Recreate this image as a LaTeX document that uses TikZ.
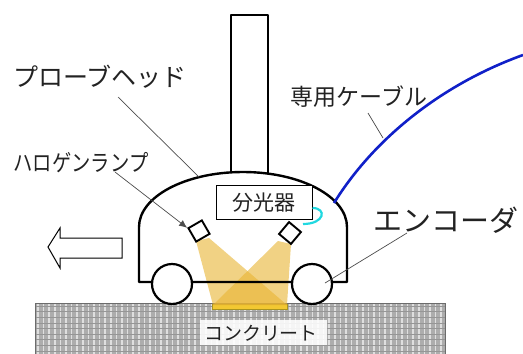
\documentclass[tikz,border=0pt]{standalone}
\usepackage{fontspec}
\newfontfamily\jp{Noto Sans CJK JP}
\usetikzlibrary{arrows.meta}
\definecolor{lamplight}{HTML}{E8B432}
\definecolor{patch}{HTML}{F2C832}
\definecolor{patchedge}{HTML}{A89420}
\definecolor{cable}{HTML}{1020C8}
\definecolor{fiber}{HTML}{20D8E0}
\definecolor{ink}{HTML}{222222}
\tikzset{
  lbl/.style={text=ink, inner sep=0pt, font=\jp},
  leader/.style={draw=black!70, line width=0.7pt},
  body/.style={draw=black, line width=2.4pt, line join=round},
  wheel/.style={draw=black, line width=2.2pt, fill=white, circle, minimum size=40pt, inner sep=0pt},
  lamp/.style={draw=black, line width=1.9pt, fill=white, minimum size=15.5pt, inner sep=0pt},
  cone/.style={fill=lamplight, fill opacity=0.6},
}
\begin{document}
\begin{tikzpicture}[x=1pt,y=-1pt]
\useasboundingbox (0,0) rectangle (523,354);

% concrete slab with its grid texture
\fill[gray!64] (35,303) rectangle (445,354);
\begin{scope}
  \clip (35,303) rectangle (445,354);
  \foreach \x in {38,43.6,...,446} \draw[white!75!gray, line width=1.5pt] (\x,303) -- (\x,354);
  \foreach \y in {306,311.6,...,354} \draw[gray!82, line width=0.6pt] (35,\y) -- (445,\y);
\end{scope}
\draw[gray!85!black, line width=0.8pt] (35,354) -- (35,303) -- (445,303) -- (445,354);
\node[fill=white, fill opacity=0.88, text opacity=1, minimum width=127pt, minimum height=25pt, inner sep=0pt] (slabtag) at (263,332.5) {};
\node[lbl, font=\jp\fontsize{19}{19}\selectfont] (concrete) at (261,333) {コンクリート};

% lit spot on the surface
\draw[draw=patchedge, fill=patch, line width=0.8pt] (212,304) rectangle (287,309);

% light cones of the two lamps
\fill[cone] (196,241) -- (209,238) -- (287,305) -- (213,305) -- cycle;
\fill[cone] (278,241) -- (291,244) -- (287,305) -- (213,305) -- cycle;

% mast
\draw[body, fill=white] (231,173) -- (231,15) -- (268,15) -- (268,173);

% probe head housing
\draw[body] (139,282) -- (139,227) arc[start angle=180, end angle=360, x radius=104, y radius=55] -- (347,282) -- cycle;

% wheels
\node[wheel] (wl) at (172,284) {};
\node[wheel] (wr) at (312,284) {};

% spectrometer
\node[draw=black, line width=1pt, fill=white, minimum width=96pt, minimum height=34pt, inner sep=0pt] (spec) at (264,202) {};
\node[lbl, font=\jp\fontsize{21}{21}\selectfont] (spectxt) at (264,203) {分光器};

% halogen lamps
\node[lamp, rotate=30] (lampl) at (199,231) {};
\node[lamp, rotate=-40] (lampr) at (290,233) {};

% fibre from spectrometer to the lamp
\draw[fiber, line width=2.2pt] (spec.east |- 0,208) .. controls (327,208) and (325,224) .. (303,224);

% cable
\coordinate (cabletop) at (523,55);
\draw[cable, line width=2.6pt] (334,203) .. controls (373,140) and (440,85) .. (cabletop);

% travel direction arrow
\draw[black, line width=1pt, fill=white] (48,247) -- (60,228) -- (60,238) -- (122,238) -- (122,258) -- (60,258) -- (60,268) -- cycle;

% labels
\node[lbl, font=\jp\fontsize{25}{25}\selectfont] (head) at (100,77) {プローブヘッド};
\node[lbl, font=\jp\fontsize{23}{23}\selectfont] (halogen) at (81,163) {\scalebox{0.84}[1]{ハロゲンランプ}};
\node[lbl, font=\jp\fontsize{23}{23}\selectfont] (cabletxt) at (359,97) {専用ケーブル};
\node[lbl, font=\jp\fontsize{29}{29}\selectfont] (encoder) at (446,220) {エンコーダ};

% leader lines
\coordinate (headpt) at (199,177);
\coordinate (cablept) at (383,138);
\coordinate (encpt) at (325,283);
\draw[leader] (118,97) -- (headpt);
\draw[leader, -{Latex[length=8pt,width=7pt]}] (115,172) -- (lampl.north west);
\draw[leader] (368,113) -- (cablept);
\draw[leader] (407,233) -- (encpt);
\end{tikzpicture}
\end{document}
